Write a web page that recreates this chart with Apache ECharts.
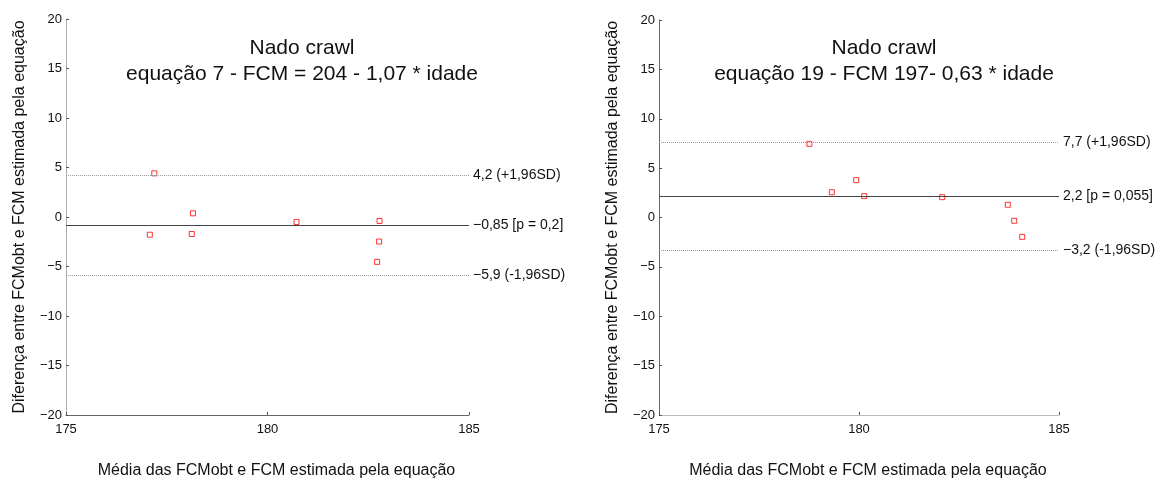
<!DOCTYPE html>
<html>
<head>
<meta charset="utf-8">
<script src="https://cdn.jsdelivr.net/npm/echarts@6/dist/echarts.min.js"></script>
<style>
  html, body { margin: 0; padding: 0; background: #fff; }
  #chart { width: 1158px; height: 484px; }
</style>
</head>
<body>
<div id="chart"></div>
<script>
// valores
const xTicks = [175, 180, 185];
const yTicks = [-20, -15, -10, -5, 0, 5, 10, 15, 20];

// equação 7
const leftX = [177.19, 177.08, 178.15, 178.12, 180.72, 182.78, 182.77, 182.72];
const leftY = [4.41, -1.79, 0.37, -1.72, -0.5, -0.4, -2.48, -4.53];
const leftLines = [4.24, -0.85, -5.92];
const leftLineText = ['4,2 (+1,96SD)', '\u22120,85 [p = 0,2]', '\u22125,9 (-1,96SD)'];

// equação 19
const rightX = [178.76, 179.32, 179.93, 180.13, 182.08, 183.72, 183.88, 184.08];
const rightY = [7.46, 2.56, 3.78, 2.16, 2.06, 1.29, -0.33, -1.96];
const rightLines = [7.65, 2.17, -3.3];
const rightLineText = ['7,7 (+1,96SD)', '2,2 [p = 0,055]', '\u22123,2 (-1,96SD)'];

const titles = [
  'Nado crawl\nequação 7 - FCM = 204 - 1,07 * idade',
  'Nado crawl\nequação 19 - FCM 197- 0,63 * idade'
];
const xName = 'Média das FCMobt e FCM estimada pela equação';
const yName = 'Diferença entre FCMobt e FCM estimada pela equação';

const font = "'Liberation Sans', Arial, Helvetica, sans-serif";

function fmtY(v) {
  return v < 0 ? '\u2212' + (-v) : String(v);
}

function xAxisFor(idx, lineColor) {
  return {
    type: 'value', gridIndex: idx,
    min: xTicks[0], max: xTicks[xTicks.length - 1], interval: 5,
    splitLine: { show: false },
    axisLine: { onZero: false, lineStyle: { color: lineColor, width: 1 } },
    axisTick: { inside: true, length: 3, lineStyle: { color: '#555' } },
    axisLabel: { color: '#111', fontSize: 13, fontFamily: font, margin: 8 },
    name: xName, nameLocation: 'middle', nameGap: 48,
    nameTextStyle: { color: '#111', fontSize: 16, fontFamily: font, padding: [0, 0, 0, 18] }
  };
}

function yAxisFor(idx, lineColor) {
  return {
    type: 'value', gridIndex: idx,
    min: yTicks[0], max: yTicks[yTicks.length - 1], interval: 5,
    splitLine: { show: false },
    axisLine: { show: true, onZero: false, lineStyle: { color: lineColor, width: 1 } },
    axisTick: { show: true, inside: true, length: 3, lineStyle: { color: '#555' } },
    axisLabel: { color: '#111', fontSize: 13, fontFamily: font, margin: 4, formatter: fmtY },
    name: yName, nameLocation: 'middle', nameRotate: 90, nameGap: 38,
    nameTextStyle: { color: '#111', fontSize: 16, fontFamily: font }
  };
}

function linesFor(values, texts) {
  return values.map(function (v, i) {
    return {
      yAxis: v,
      lineStyle: i === 1
        ? { type: 'solid', color: '#444', width: 1 }
        : { type: 'dotted', color: '#999', width: 1 },
      label: { formatter: texts[i] }
    };
  });
}

function seriesFor(idx, xs, ys, lines, texts) {
  return {
    type: 'scatter', xAxisIndex: idx, yAxisIndex: idx,
    data: xs.map(function (x, i) { return [x, ys[i]]; }),
    symbol: 'rect', symbolSize: 5,
    itemStyle: { color: '#fff', borderColor: '#f00', borderWidth: 1 },
    markLine: {
      silent: true, symbol: 'none', animation: false,
      label: { position: 'end', distance: 4, color: '#111', fontSize: 14, fontFamily: font },
      data: linesFor(lines, texts)
    }
  };
}

const chart = echarts.init(document.getElementById('chart'));

const option = {
  animation: false,
  backgroundColor: '#fff',
  title: [
    { text: titles[0], left: 297, top: 30, textAlign: 'center',
      textStyle: { fontSize: 21, fontWeight: 'normal', color: '#111', fontFamily: font, lineHeight: 26 } },
    { text: titles[1], left: 879, top: 30, textAlign: 'center',
      textStyle: { fontSize: 21, fontWeight: 'normal', color: '#111', fontFamily: font, lineHeight: 26 } }
  ],
  grid: [
    { left: 66, top: 19, width: 403, height: 403 },
    { left: 659, top: 20, width: 400, height: 402 }
  ],
  xAxis: [xAxisFor(0, '#666'), xAxisFor(1, '#bbb')],
  yAxis: [yAxisFor(0, '#aaa'), yAxisFor(1, '#666')],
  series: [
    seriesFor(0, leftX, leftY, leftLines, leftLineText),
    seriesFor(1, rightX, rightY, rightLines, rightLineText)
  ]
};

chart.setOption(option);
</script>
</body>
</html>
